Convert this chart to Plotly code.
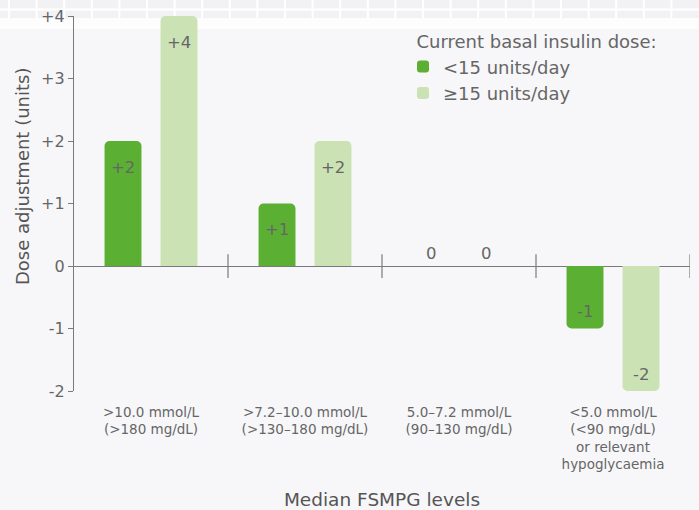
import plotly.graph_objects as go

categories = [
    ">10.0 mmol/L<br>(>180 mg/dL)",
    ">7.2–10.0 mmol/L<br>(>130–180 mg/dL)",
    "5.0–7.2 mmol/L<br>(90–130 mg/dL)",
    "<5.0 mmol/L<br>(<90 mg/dL)<br>or relevant<br>hypoglycaemia",
]
low_dose = [2, 1, 0, -1]      # <15 units/day
high_dose = [4, 2, 0, -2]     # >=15 units/day
series_names = ["<15 units/day", "≥15 units/day"]
tick_vals = [-2, -1, 0, 1, 2, 3, 4]
tick_text = ["-2", "-1", "0", "+1", "+2", "+3", "+4"]

DARK = "#5bb034"
LIGHT = "#cbe2b5"
TEXT = "#666666"
TITLE = "#555555"
BG = "#f7f7f9"
FONT = "DejaVu Sans"

W, H = 699, 510
ML, MR, MT, MB = 74, 9, 16, 119
PW, PH = W - ML - MR, H - MT - MB
BARGAP = 0.273
BARGROUPGAP = 0.34


def fmt(v):
    return f"+{v}" if v > 0 else str(v)


def py(pix):  # pixel row -> paper y
    return (H - MB - pix) / PH


def pxx(pix):  # pixel column -> paper x
    return (pix - ML) / PW


fig = go.Figure()
for name, vals, col in [(series_names[0], low_dose, DARK), (series_names[1], high_dose, LIGHT)]:
    fig.add_trace(go.Bar(
        x=categories, y=vals, name=name,
        marker=dict(color=col, line=dict(width=0)),
        hoverinfo="skip",
    ))

# value labels, placed at each bar's end through the data axes
cat_px = PW / len(categories)
slot_px = (1 - BARGAP) * cat_px / 2
annotations = []
for k, vals in enumerate([low_dose, high_dose]):
    xs = (k - 0.5) * slot_px
    for c, v in zip(categories, vals):
        if v > 0:
            ys = -26
        elif v < 0:
            ys = 17
        else:
            ys = 13
        annotations.append(dict(
            x=c, y=v, xref="x", yref="y", text=fmt(v), showarrow=False,
            xshift=xs, yshift=ys, xanchor="center", yanchor="middle",
            font=dict(size=16.5, color=TEXT, family=FONT),
        ))

# y-axis title (sits above the axis centre in the original)
annotations.append(dict(
    x=pxx(22), y=py(177), xref="paper", yref="paper", text="Dose adjustment (units)",
    textangle=-90, showarrow=False, xanchor="center", yanchor="middle",
    font=dict(size=18, color=TITLE, family=FONT),
))

shapes = []
# decorative top band
shapes.append(dict(type="rect", xref="paper", yref="paper", x0=pxx(-5), x1=pxx(705),
                   y0=py(29), y1=py(18), fillcolor="#fdfdfe",
                   line=dict(width=0), layer="below"))
shapes.append(dict(type="rect", xref="paper", yref="paper", x0=pxx(-5), x1=pxx(705),
                   y0=py(18), y1=py(-2), fillcolor="#f2f2f5",
                   line=dict(width=0), layer="below"))
shapes.append(dict(type="line", xref="paper", yref="paper", x0=pxx(-5), x1=pxx(705),
                   y0=py(9.5), y1=py(9.5),
                   line=dict(color="white", width=2), layer="below"))
col = 9
while col < W:
    shapes.append(dict(type="line", xref="paper", yref="paper", x0=pxx(col), x1=pxx(col),
                       y0=py(18), y1=py(-2),
                       line=dict(color="white", width=2), layer="below"))
    col += 27.6

# category boundary ticks crossing the zero line
for i in range(len(categories)):
    xb = i + 0.5
    shapes.append(dict(type="line", xref="x", yref="y", x0=xb, x1=xb, y0=-0.19, y1=0.19,
                       line=dict(color="#7a7a7a", width=1.2)))

fig.update_layout(
    width=W, height=H,
    margin=dict(l=ML, r=MR, t=MT, b=MB, autoexpand=False),
    paper_bgcolor=BG, plot_bgcolor="rgba(0,0,0,0)",
    font=dict(family=FONT, color=TEXT),
    barmode="group", bargap=BARGAP, bargroupgap=BARGROUPGAP,
    barcornerradius=5,
    showlegend=True,
    legend=dict(
        title=dict(text="\u00a0\u00a0Current basal insulin dose:", font=dict(size=18, color=TEXT)),
        x=pxx(403), y=py(25), xanchor="left", yanchor="top",
        font=dict(size=18, color=TEXT), bgcolor="rgba(0,0,0,0)",
        tracegroupgap=0,
    ),
    shapes=shapes,
    annotations=annotations,
    xaxis=dict(
        range=[-0.5, 3.5], showgrid=False, showline=False, zeroline=False,
        ticks="", tickfont=dict(size=13.5, color=TEXT), ticklabelstandoff=11,
        title=dict(text="Median FSMPG levels", font=dict(size=18.5, color=TITLE), standoff=24),
    ),
    yaxis=dict(
        range=[-2, 4], tickvals=tick_vals, ticktext=tick_text,
        showgrid=False, showline=True, linecolor="#7a7a7a", linewidth=1.2,
        ticks="outside", ticklen=5, tickcolor="#7a7a7a", tickwidth=1.2,
        zeroline=True, zerolinecolor="#7a7a7a", zerolinewidth=1.2,
        tickfont=dict(size=16, color=TEXT),
    ),
)

fig.write_html(
    "out.html",
    config={"displayModeBar": False},
    post_script="document.body.style.margin='0';document.body.style.background='#f7f7f9';",
)
